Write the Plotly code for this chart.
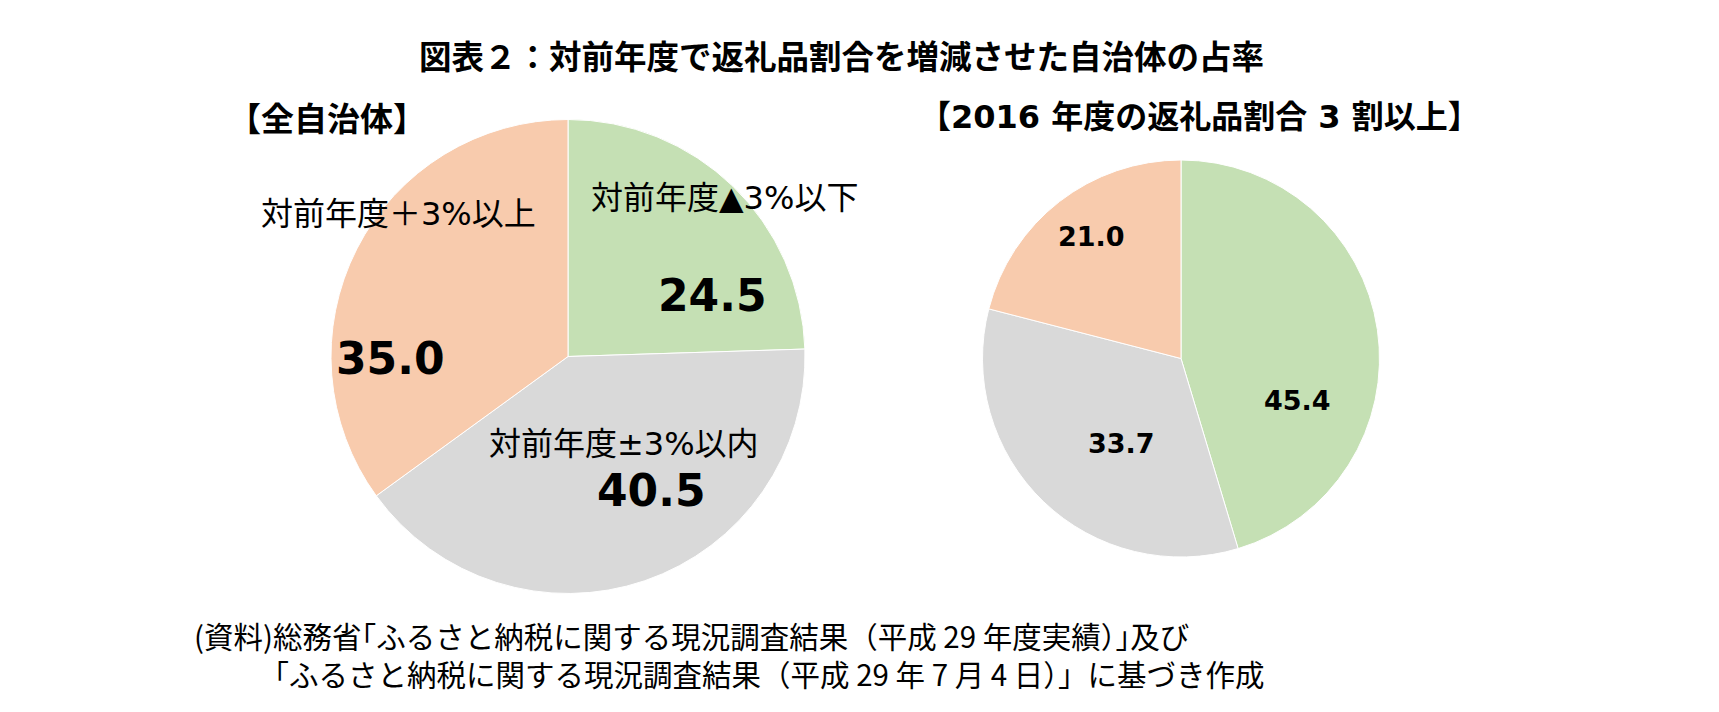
import plotly.graph_objects as go

# data
categories = ["対前年度▲3%以下", "対前年度±3%以内", "対前年度＋3%以上"]
values_all = [24.5, 40.5, 35.0]
values_top = [45.4, 33.7, 21.0]
colors = ["#C5E0B4", "#D9D9D9", "#F8CBAD"]

title = "図表２：対前年度で返礼品割合を増減させた自治体の占率"
sub_left = "【全自治体】"
sub_right = "【2016 年度の返礼品割合 3 割以上】"
source_lines = [
    "(資料)総務省｢ふるさと納税に関する現況調査結果（平成 29 年度実績）｣及び",
    "「ふるさと納税に関する現況調査結果（平成 29 年 7 月 4 日）」に基づき作成",
]

# page body has an 8px margin, so the figure is a bit smaller than the window
OFF = 8
W, H = 1719 - 2 * OFF, 712 - 2 * OFF
JP = "Noto Sans CJK JP"
MIX = "DejaVu Sans, Noto Sans CJK JP"
NUM = "DejaVu Sans"


def px(x, y):
    # window pixel -> paper coords
    return (x - OFF) / W, 1 - (y - OFF) / H


def dom(x0, y0, x1, y1):
    a, b = px(x0, y1)
    c, d = px(x1, y0)
    return dict(x=[a, c], y=[b, d])


fig = go.Figure()

# left pie: all municipalities
fig.add_trace(go.Pie(
    labels=categories, values=values_all, sort=False, direction="clockwise",
    rotation=0, marker=dict(colors=colors, line=dict(color="white", width=1)),
    textinfo="none", hoverinfo="label+value",
    domain=dom(331, 119, 805, 594),
))

# right pie: municipalities with return-gift ratio >= 30% in 2016
fig.add_trace(go.Pie(
    labels=categories, values=values_top, sort=False, direction="clockwise",
    rotation=0, marker=dict(colors=colors, line=dict(color="white", width=1)),
    textinfo="none", hoverinfo="label+value",
    domain=dom(982, 160, 1380, 557),
))

annotations = []


def note(text, x, y, size, family=JP, bold=False, xanchor="center"):
    ax, ay = px(x, y)
    annotations.append(dict(
        text=f"<b>{text}</b>" if bold else text, x=ax, y=ay,
        xref="paper", yref="paper", xanchor=xanchor, yanchor="middle",
        align="left", showarrow=False,
        font=dict(family=family, size=size, color="black"),
    ))


note(title, 841, 54, 32.5, bold=True)
note(sub_left, 327, 117, 33, bold=True)
note(sub_right, 1199, 117, 32, family=MIX, bold=True)

# left pie labels: category name + value
cat_pos = [(724, 198), (624, 444), (398, 214)]
val_pos = [(712, 296), (651, 490), (390, 358)]
for cat, v, (cx, cy), (vx, vy) in zip(categories, values_all, cat_pos, val_pos):
    note(cat, cx, cy, 32, family=MIX)
    note(f"{v:.1f}", vx, vy, 44, family=NUM, bold=True)

# right pie labels: value only
top_pos = [(1297, 400), (1121, 444), (1091, 236)]
for v, (vx, vy) in zip(values_top, top_pos):
    note(f"{v:.1f}", vx, vy, 27, family=NUM, bold=True)

# source note, second line indented
note(source_lines[0] + "<br>\u3000\u3000 " + source_lines[1], 192, 654, 29.5, xanchor="left")

fig.update_layout(
    width=W, height=H,
    margin=dict(l=0, r=0, t=0, b=0),
    paper_bgcolor="white", plot_bgcolor="white",
    showlegend=False,
    annotations=annotations,
)

fig.write_html("out.html")
